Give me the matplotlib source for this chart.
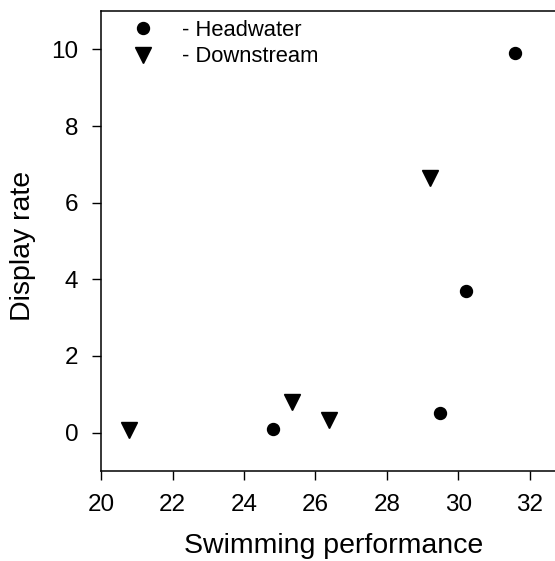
import matplotlib
matplotlib.use("Agg")
import matplotlib.pyplot as plt

plt.rcParams["font.family"] = ["Liberation Sans", "DejaVu Sans"]

# swimming performance vs display rate
head_x = [24.8, 29.5, 30.22, 31.6]
head_y = [0.10, 0.52, 3.69, 9.90]
down_x = [20.78, 25.34, 26.39, 29.2]
down_y = [0.08, 0.80, 0.34, 6.65]

xticks = [20, 22, 24, 26, 28, 30, 32]
yticks = [0, 2, 4, 6, 8, 10]

fig = plt.figure(figsize=(5.55, 5.61), dpi=100)
ax = fig.add_axes([101.3 / 555, 90 / 561, 464 / 555, 460 / 561])

ax.plot(head_x, head_y, "o", color="black", markersize=8.6, label="- Headwater")
ax.plot(down_x, down_y, "v", color="black", markersize=11, label="- Downstream")

ax.set_xlim(20, 33)
ax.set_ylim(-1, 11)
ax.set_xticks(xticks)
ax.set_yticks(yticks)
ax.tick_params(direction="out", length=6.5, width=1, labelsize=17.5, pad=10)
for sp in ax.spines.values():
    sp.set_linewidth(1.1)

ax.set_xlabel("Swimming performance", fontsize=20.5)
ax.set_ylabel("Display rate", fontsize=20.5)
ax.xaxis.set_label_coords(0.5, -0.135)
ax.yaxis.set_label_coords(-0.14, 0.49)

ax.legend(loc="upper left", bbox_to_anchor=(0.0668, 0.981), frameon=False,
          borderpad=0, borderaxespad=0, handlelength=1.0, handletextpad=1.25,
          labelspacing=0.26, fontsize=15.8)

fig.savefig("out.png", dpi=100)
